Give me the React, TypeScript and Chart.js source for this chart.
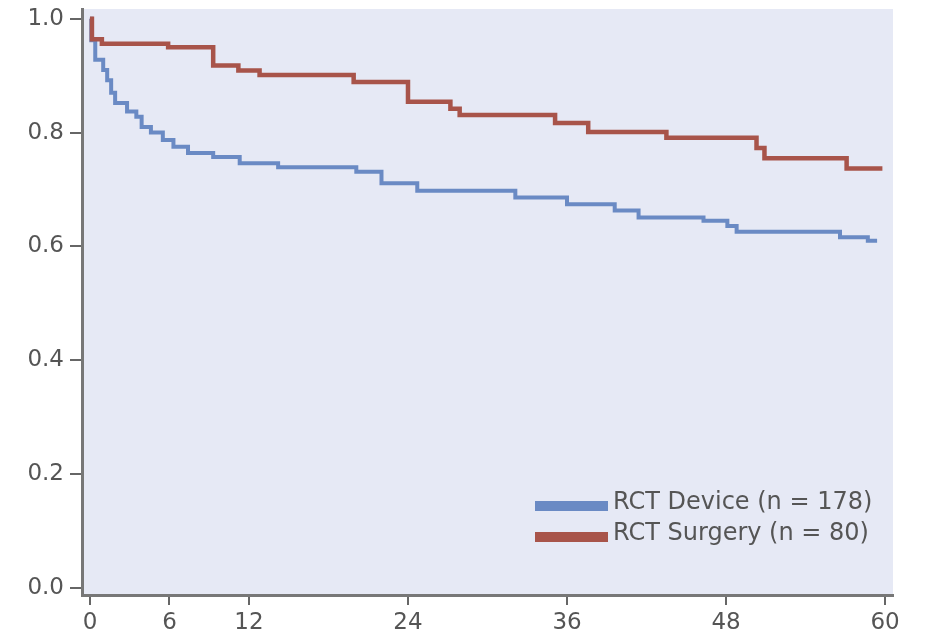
import React, { useEffect, useRef } from "react";
import { Chart, registerables } from "chart.js";

Chart.register(...registerables);

// Kaplan–Meier estimates (months, survival)
const deviceMonths = [0, 0.1, 0.4, 1.0, 1.3, 1.6, 1.9, 2.8, 3.5, 3.9, 4.6, 5.5, 6.3, 7.4, 9.3, 11.3, 14.2, 20.1, 22.0, 24.7, 32.1, 36.0, 39.6, 41.4, 46.3, 48.1, 48.8, 56.6, 58.7, 59.4];
const deviceSurvival = [1.0, 0.962, 0.928, 0.91, 0.892, 0.87, 0.852, 0.837, 0.828, 0.81, 0.8, 0.787, 0.775, 0.764, 0.757, 0.746, 0.739, 0.731, 0.711, 0.698, 0.686, 0.674, 0.663, 0.651, 0.645, 0.636, 0.626, 0.616, 0.61, 0.61];

const surgeryMonths = [0, 0.15, 0.9, 5.9, 9.3, 11.2, 12.8, 19.9, 24.0, 27.2, 27.9, 35.1, 37.6, 43.5, 50.3, 50.9, 57.1, 59.8];
const surgerySurvival = [1.0, 0.964, 0.956, 0.95, 0.918, 0.909, 0.901, 0.889, 0.854, 0.842, 0.831, 0.817, 0.801, 0.791, 0.773, 0.755, 0.737, 0.737];

const seriesLabels = ["RCT Device (n = 178)", "RCT Surgery (n = 80)"];
const seriesColors = ["#6a8ac4", "#a8544a"];

const xTicks = [0, 6, 12, 24, 36, 48, 60];
const yTicks = [0, 0.2, 0.4, 0.6, 0.8, 1.0];

const FONT = "'DejaVu Sans', sans-serif";
const TEXT_COLOR = "#555555";

const toPoints = (xs: number[], ys: number[]) => xs.map((x, i) => ({ x, y: ys[i] }));

const plotBackground = {
  id: "plotBackground",
  beforeDraw(chart: any) {
    const { ctx, chartArea } = chart;
    ctx.save();
    ctx.fillStyle = "#e6e9f5";
    ctx.fillRect(chartArea.left, chartArea.top, chartArea.right - chartArea.left, chartArea.bottom - chartArea.top);
    ctx.restore();
  },
};

const insideLegend = {
  id: "insideLegend",
  afterDatasetsDraw(chart: any) {
    const { ctx, chartArea } = chart;
    const order = [1, 0]; // device first, surgery second
    ctx.save();
    order.forEach((di, row) => {
      const ds = chart.data.datasets[di];
      const cy = chartArea.top + 497 + row * 31;
      const sx = chartArea.left + 453;
      ctx.fillStyle = ds.borderColor;
      ctx.fillRect(sx, cy - 5, 73, 10);
      ctx.fillStyle = TEXT_COLOR;
      ctx.font = `24px ${FONT}`;
      ctx.textBaseline = "alphabetic";
      ctx.textAlign = "left";
      ctx.fillText(ds.label, sx + 78, cy + 3);
    });
    ctx.restore();
  },
};

export default function App() {
  const ref = useRef<HTMLCanvasElement | null>(null);

  useEffect(() => {
    if (!ref.current) return;
    const chart = new Chart(ref.current, {
      type: "line",
      data: {
        datasets: [
          {
            label: seriesLabels[1],
            data: toPoints(surgeryMonths, surgerySurvival),
            borderColor: seriesColors[1],
            backgroundColor: seriesColors[1],
            borderWidth: 4.5,
            stepped: "before",
            pointRadius: 0,
            fill: false,
          },
          {
            label: seriesLabels[0],
            data: toPoints(deviceMonths, deviceSurvival),
            borderColor: seriesColors[0],
            backgroundColor: seriesColors[0],
            borderWidth: 4,
            stepped: "before",
            pointRadius: 0,
            fill: false,
          },
        ],
      },
      plugins: [plotBackground, insideLegend],
      options: {
        animation: false,
        responsive: false,
        layout: { padding: { top: 9, right: 34, left: 0, bottom: 0 } },
        plugins: {
          legend: { display: false },
          tooltip: { enabled: false },
        },
        scales: {
          x: {
            type: "linear",
            min: -0.6,
            max: 60.6,
            afterBuildTicks: (s: any) => {
              s.ticks = xTicks.map((v) => ({ value: v }));
            },
            afterFit: (s: any) => {
              s.height = 39;
              s.paddingLeft = 0;
              s.paddingRight = 0;
            },
            grid: {
              display: true,
              drawOnChartArea: false,
              drawTicks: true,
              tickLength: 10,
              color: "#666666",
              lineWidth: 2,
            },
            border: { display: true, color: "#777777", width: 3 },
            ticks: {
              autoSkip: false,
              maxRotation: 0,
              padding: 4,
              color: TEXT_COLOR,
              font: { family: FONT, size: 23 },
              callback: (v: any) => String(v),
            },
          },
          y: {
            type: "linear",
            min: -0.012,
            max: 1.017,
            afterBuildTicks: (s: any) => {
              s.ticks = yTicks.map((v) => ({ value: v }));
            },
            afterFit: (s: any) => {
              s.width = 82;
              s.paddingTop = 0;
              s.paddingBottom = 0;
            },
            grid: {
              display: true,
              drawOnChartArea: false,
              drawTicks: true,
              tickLength: 12,
              color: "#666666",
              lineWidth: 2,
            },
            border: { display: true, color: "#777777", width: 3 },
            ticks: {
              padding: 6,
              color: TEXT_COLOR,
              font: { family: FONT, size: 23 },
              callback: (v: any) => Number(v).toFixed(1),
            },
          },
        },
      } as any,
    });
    return () => chart.destroy();
  }, []);

  return (
    <div style={{ position: "absolute", left: 0, top: 0, width: 927, height: 634, background: "#ffffff" }}>
      <canvas ref={ref} width={927} height={634} style={{ display: "block" }} />
    </div>
  );
}
